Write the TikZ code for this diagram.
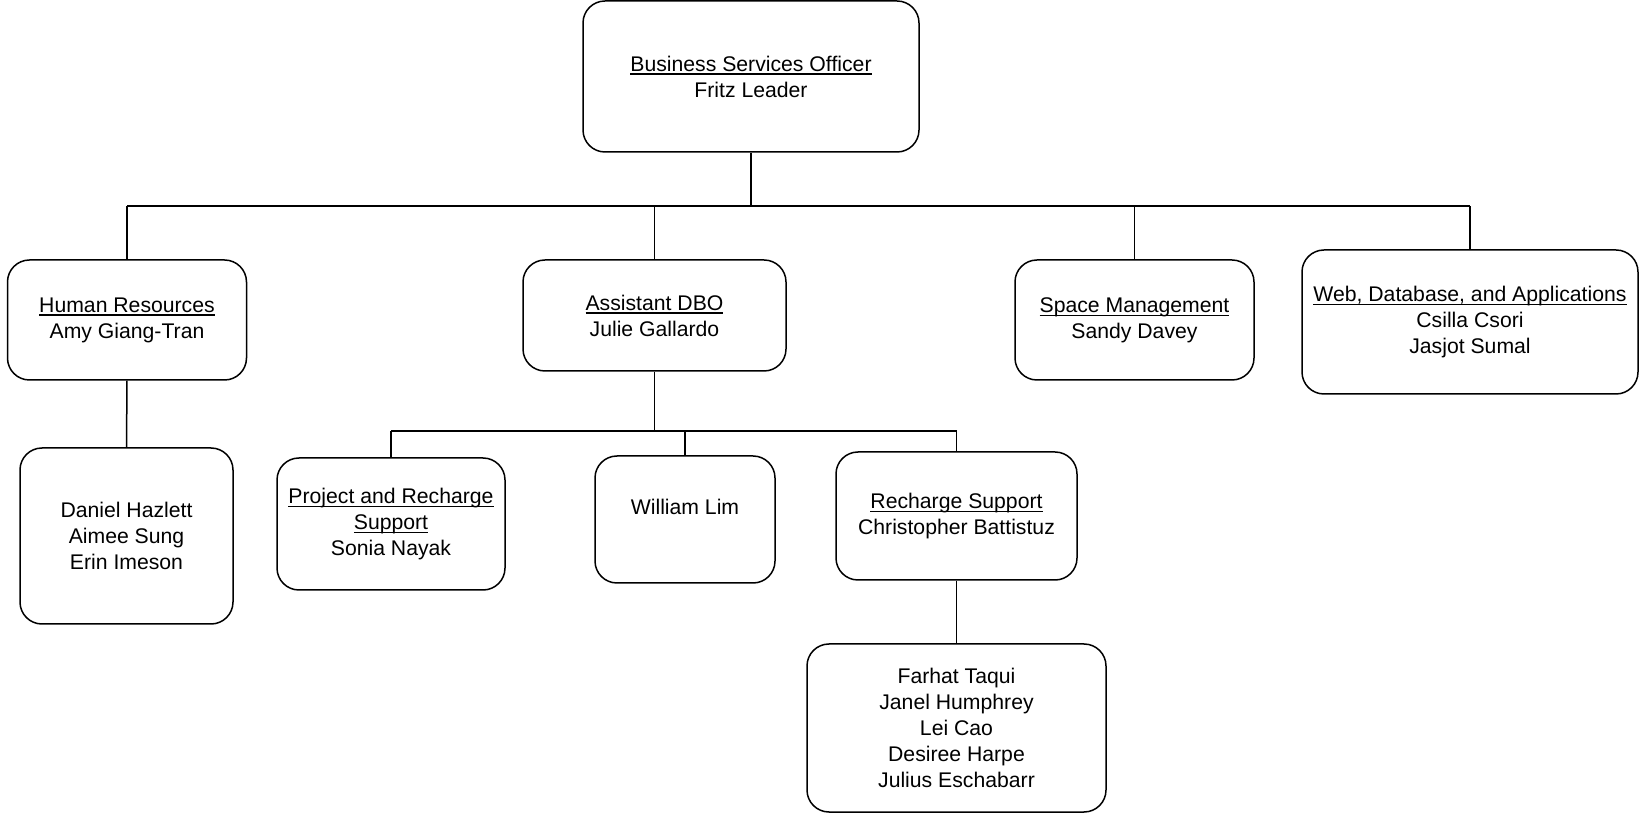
\documentclass[tikz,border=0pt]{standalone}
\usepackage{fontspec}
\setmainfont{Liberation Sans}
\newcommand{\ulbox}[1]{\setbox0\hbox{#1}\rlap{\rule[-0.17em]{\wd0}{0.06em}}\box0}
\begin{document}
\begin{tikzpicture}[x=0.5pt,y=-0.5pt,
  orgbox/.style={draw, line width=0.75pt, rounded corners=11pt, align=center, inner sep=0pt,
    font=\fontsize{10.6}{13}\selectfont},
  wire/.style={line width=0.75pt}]
\useasboundingbox (0,0) rectangle (1639,817);
\node[orgbox, minimum width=168pt, minimum height=75.5pt] (top) at (751,76.5) {\ulbox{Business Services Officer}\\Fritz Leader};
\node[orgbox, minimum width=119.5pt, minimum height=60pt] (hr) at (127,320) {\ulbox{Human Resources}\\Amy Giang-Tran};
\node[orgbox, minimum width=131.5pt, minimum height=55.5pt] (adbo) at (654.5,315.5) {\ulbox{Assistant DBO}\\Julie Gallardo};
\node[orgbox, minimum width=119.5pt, minimum height=60pt] (space) at (1134.5,320) {\ulbox{Space Management}\\Sandy Davey};
\node[orgbox, minimum width=168pt, minimum height=72pt] (web) at (1470,322) {\ulbox{Web, Database, and Applications}\\Csilla Csori\\Jasjot Sumal};
\node[orgbox, minimum width=106.5pt, minimum height=88pt] (dan) at (126.5,536) {Daniel Hazlett\\Aimee Sung\\Erin Imeson};
\node[orgbox, minimum width=114pt, minimum height=66pt] (proj) at (391,524) {\ulbox{Project and Recharge}\\\ulbox{Support}\\Sonia Nayak};
\node[orgbox, minimum width=90pt, minimum height=63.5pt] (will) at (685,519.5) {William Lim\\~};
\node[orgbox, minimum width=120.5pt, minimum height=64pt] (rech) at (956.5,516) {\ulbox{Recharge Support}\\Christopher Battistuz};
\node[orgbox, minimum width=149.5pt, minimum height=84pt] (far) at (956.5,728) {Farhat Taqui\\Janel Humphrey\\Lei Cao\\Desiree Harpe\\Julius Eschabarr};
\coordinate (bus) at (751,206);
\coordinate (sub) at (654.5,431);
\draw[wire] (top.south) -- (bus);
\draw[wire] (hr.north |- bus) -- (web.north |- bus);
\foreach \n in {hr,adbo,space,web} \draw[wire] (\n.north) -- (\n.north |- bus);
\draw[wire] (adbo.south) -- (sub);
\draw[wire] (proj.north |- sub) -- (rech.north |- sub);
\foreach \n in {proj,will,rech} \draw[wire] (\n.north) -- (\n.north |- sub);
\draw[wire] (hr.south) -- (dan.north);
\draw[wire] (rech.south) -- (far.north);
\end{tikzpicture}
\end{document}
